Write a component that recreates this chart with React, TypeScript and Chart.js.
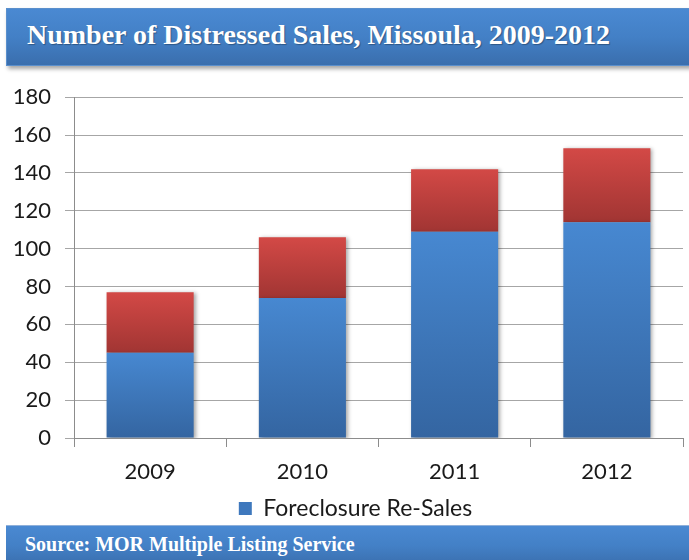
import React, { useEffect, useRef } from "react";
import { Chart, registerables } from "chart.js";

Chart.register(...registerables);

const years = ["2009", "2010", "2011", "2012"];
const foreclosureReSales = [45, 74, 109, 114];
const shortSales = [32, 32, 33, 39];
const yTicks = [0, 20, 40, 60, 80, 100, 120, 140, 160, 180];
const titleText = "Number of Distressed Sales, Missoula, 2009-2012";
const sourceText = "Source: MOR Multiple Listing Service";
const seriesNames = ["Foreclosure Re-Sales", "Short Sales"];

const TICK_FONT = { family: "Lato, 'Open Sans', sans-serif", size: 22 };
const LEGEND_FONT = { family: "Lato, 'Open Sans', sans-serif", size: 23 };

function segGradient(ctx: any, top: string, bottom: string, isUpper: boolean) {
  const chart = ctx.chart;
  const yScale = chart.scales && chart.scales.y;
  if (!yScale || ctx.dataIndex === undefined || !chart.chartArea) return top;
  const i = ctx.dataIndex;
  const low = isUpper ? foreclosureReSales[i] : 0;
  const high = isUpper ? foreclosureReSales[i] + shortSales[i] : foreclosureReSales[i];
  const y0 = yScale.getPixelForValue(high);
  const y1 = yScale.getPixelForValue(low);
  if (!isFinite(y0) || !isFinite(y1) || y0 === y1) return top;
  const g = chart.ctx.createLinearGradient(0, y0, 0, y1);
  g.addColorStop(0, top);
  g.addColorStop(1, bottom);
  return g;
}

const shadowPlugin = {
  id: "barShadow",
  afterLayout(chart: any) {
    if (chart.legend) chart.legend.left += 28;
  },
  beforeDatasetsDraw(chart: any) {
    const c = chart.ctx;
    c.save();
    c.shadowColor = "rgba(0,0,0,0.35)";
    c.shadowBlur = 4;
    c.shadowOffsetX = 2;
    c.shadowOffsetY = 1;
  },
  afterDatasetsDraw(chart: any) {
    chart.ctx.restore();
  },
};

export default function App() {
  const canvasRef = useRef<HTMLCanvasElement | null>(null);

  useEffect(() => {
    if (!canvasRef.current) return;
    const chart = new Chart(canvasRef.current, {
      type: "bar",
      data: {
        labels: years,
        datasets: [
          {
            label: seriesNames[0],
            data: foreclosureReSales,
            backgroundColor: (ctx: any) => segGradient(ctx, "#4788d1", "#3465a1", false),
            borderWidth: 0,
            barPercentage: 0.572,
            categoryPercentage: 1,
          },
          {
            label: seriesNames[1],
            data: shortSales,
            backgroundColor: (ctx: any) => segGradient(ctx, "#d34946", "#a13533", true),
            borderWidth: 0,
            barPercentage: 0.572,
            categoryPercentage: 1,
          },
        ],
      },
      options: {
        animation: false,
        responsive: false,
        maintainAspectRatio: false,
        layout: { padding: { top: 18, right: 6, left: 0, bottom: 0 } },
        plugins: {
          title: { display: false },
          tooltip: { enabled: false },
          legend: {
            display: true,
            position: "bottom",
            labels: {
              font: LEGEND_FONT,
              color: "#1a1a1a",
              boxWidth: 13,
              boxHeight: 13,
              padding: 2,
              filter: (item: any) => item.datasetIndex === 0,
              generateLabels: (chart: any) =>
                chart.data.datasets.map((ds: any, i: number) => ({
                  text: ds.label,
                  fillStyle: "#3e78bd",
                  strokeStyle: "#3e78bd",
                  lineWidth: 0,
                  fontColor: "#1a1a1a",
                  datasetIndex: i,
                  hidden: false,
                })),
            },
          },
        },
        scales: {
          x: {
            stacked: true,
            offset: true,
            grid: {
              display: true,
              offset: true,
              drawOnChartArea: false,
              drawTicks: true,
              tickLength: 9,
              color: "#8c8c8c",
            },
            border: { display: true, color: "#8c8c8c", width: 1 },
            ticks: { font: TICK_FONT, color: "#1a1a1a", padding: 12 },
            afterFit: (scale: any) => {
              scale.height = 57;
            },
          },
          y: {
            stacked: true,
            min: 0,
            max: 180,
            afterBuildTicks: (scale: any) => {
              scale.ticks = yTicks.map((v) => ({ value: v }));
            },
            grid: {
              display: true,
              drawTicks: true,
              tickLength: 9,
              color: "#a6a6a6",
            },
            border: { display: true, color: "#8c8c8c", width: 1 },
            ticks: { font: TICK_FONT, color: "#1a1a1a", padding: 14 },
            afterFit: (scale: any) => {
              scale.width = 74;
            },
          },
        },
      },
      plugins: [shadowPlugin],
    } as any);
    return () => chart.destroy();
  }, []);

  const bannerBg = "linear-gradient(to bottom, #4a89d2 0%, #4380c6 50%, #3a6ead 100%)";

  return (
    <div style={{ position: "absolute", left: 0, top: 0, width: 689, height: 560, background: "#fff", overflow: "hidden" }}>
      <div
        style={{
          position: "absolute",
          left: 6,
          top: 8,
          width: 700,
          height: 56,
          background: bannerBg,
          boxShadow: "2px 3px 4px rgba(0,0,0,0.35)",
          border: "1px solid #5a8fcc",
        }}
      >
        <div
          style={{
            position: "absolute",
            left: 20,
            top: 10,
            color: "#fff",
            fontFamily: "'Liberation Serif', 'DejaVu Serif', serif",
            fontWeight: "bold",
            fontSize: 28,
            whiteSpace: "nowrap",
            textShadow: "1px 1px 1px rgba(0,0,0,0.3)",
          }}
        >
          {titleText}
        </div>
      </div>
      <canvas
        ref={canvasRef}
        width={689}
        height={460}
        style={{ position: "absolute", left: 0, top: 70, width: 689, height: 460 }}
      />
      <div
        style={{
          position: "absolute",
          left: 6,
          top: 525,
          width: 700,
          height: 40,
          background: bannerBg,
          borderTop: "1px solid #8fb0da",
        }}
      >
        <div
          style={{
            position: "absolute",
            left: 19,
            top: 7,
            color: "#fff",
            fontFamily: "'Liberation Serif', 'DejaVu Serif', serif",
            fontWeight: "bold",
            fontSize: 20,
            whiteSpace: "nowrap",
          }}
        >
          {sourceText}
        </div>
      </div>
    </div>
  );
}
